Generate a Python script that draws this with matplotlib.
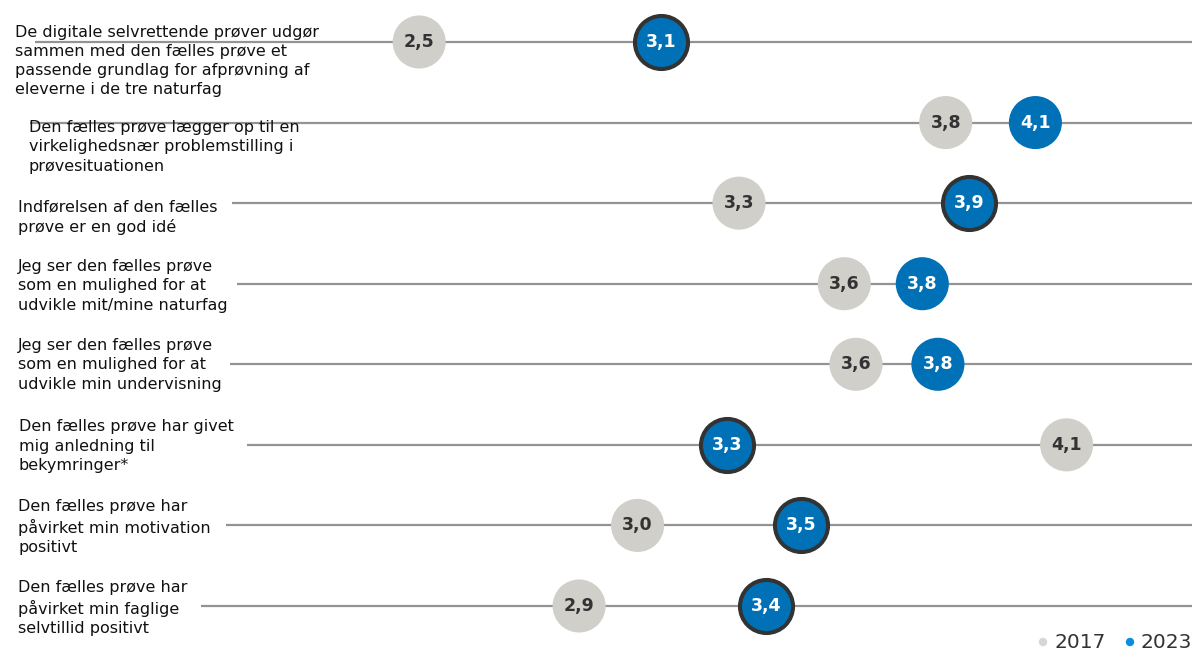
import matplotlib
matplotlib.use("Agg")
import matplotlib.pyplot as plt

# ---- data ----
statements = [
    "De digitale selvrettende prøver udgør\nsammen med den fælles prøve et\npassende grundlag for afprøvning af\neleverne i de tre naturfag",
    "Den fælles prøve lægger op til en\nvirkelighedsnær problemstilling i\nprøvesituationen",
    "Indførelsen af den fælles\nprøve er en god idé",
    "Jeg ser den fælles prøve\nsom en mulighed for at\nudvikle mit/mine naturfag",
    "Jeg ser den fælles prøve\nsom en mulighed for at\nudvikle min undervisning",
    "Den fælles prøve har givet\nmig anledning til\nbekymringer*",
    "Den fælles prøve har\npåvirket min motivation\npositivt",
    "Den fælles prøve har\npåvirket min faglige\nselvtillid positivt",
]
values_2017 = [2.48, 3.83, 3.30, 3.57, 3.60, 4.14, 3.04, 2.89]
values_2023 = [3.10, 4.06, 3.89, 3.77, 3.81, 3.27, 3.46, 3.37]
significant_2023 = [True, False, True, False, False, True, True, True]
series_names = ["2017", "2023"]

# ---- style ----
W, H = 1192, 650
GRAY = "#d0cfca"
BLUE = "#0071b6"
DARK = "#333333"
LINE = "#939393"

fig = plt.figure(figsize=(W / 100, H / 100), dpi=100)
ax = fig.add_axes([0, 0, 1, 1])
ax.set_axis_off()

# pixel <-> data mapping for x (scale chosen to match reference)
px_per_unit = 390.0
x_offset = -548.0
def px2x(px):
    return (px - x_offset) / px_per_unit

ax.set_xlim(px2x(0), px2x(W))
row0, row_step = 42.0, 80.57
ax.set_ylim((H - row0) / row_step, -row0 / row_step)

line_start_px = [35, 30, 232, 237, 230, 247, 226, 201]
text_left_px = [15, 29, 18, 18, 18, 19, 18, 18]
text_center_px = [61, 147, 217, 286, 365, 446, 527, 608]

def fig_xy(px, py):
    return px / W, 1 - py / H

for i, label in enumerate(statements):
    ax.hlines(i, px2x(line_start_px[i]), px2x(W + 5), color=LINE, lw=1.6, zorder=1)
    fx, fy = fig_xy(text_left_px[i], text_center_px[i])
    fig.text(fx, fy, label, ha="left", va="center", fontsize=11.5, color="#111111",
             linespacing=1.36, family="DejaVu Sans", zorder=0)

ms = 1460
for i in range(len(statements)):
    v = values_2017[i]
    ax.scatter(v, i, s=ms, color=GRAY, edgecolors="none", zorder=3)
    ax.text(v, i, f"{v:.1f}".replace(".", ","), ha="center", va="center",
            fontsize=12.5, fontweight="bold", color=DARK, zorder=4)
    v = values_2023[i]
    if significant_2023[i]:
        ax.scatter(v, i, s=ms, color=BLUE, edgecolors=DARK, linewidths=2.9, zorder=3)
    else:
        ax.scatter(v, i, s=ms, color=BLUE, edgecolors="none", zorder=3)
    ax.text(v, i, f"{v:.1f}".replace(".", ","), ha="center", va="center",
            fontsize=12.5, fontweight="bold", color="white", zorder=4)

# legend (bottom right, partially cut like the reference)
leg_y = 642
for px_dot, px_txt, col, name in [(1043, 1054, "#d6d6d2", series_names[0]),
                                  (1130, 1140, "#0a8ee0", series_names[1])]:
    fig.patches.append(matplotlib.patches.Ellipse(fig_xy(px_dot, leg_y), 7 / W, 7 / H,
                                                  transform=fig.transFigure, color=col))
    fx, fy = fig_xy(px_txt, leg_y)
    fig.text(fx, fy, name, ha="left", va="center", fontsize=14.5, color=DARK,
             fontweight="medium")

fig.savefig("out.png", dpi=100)
